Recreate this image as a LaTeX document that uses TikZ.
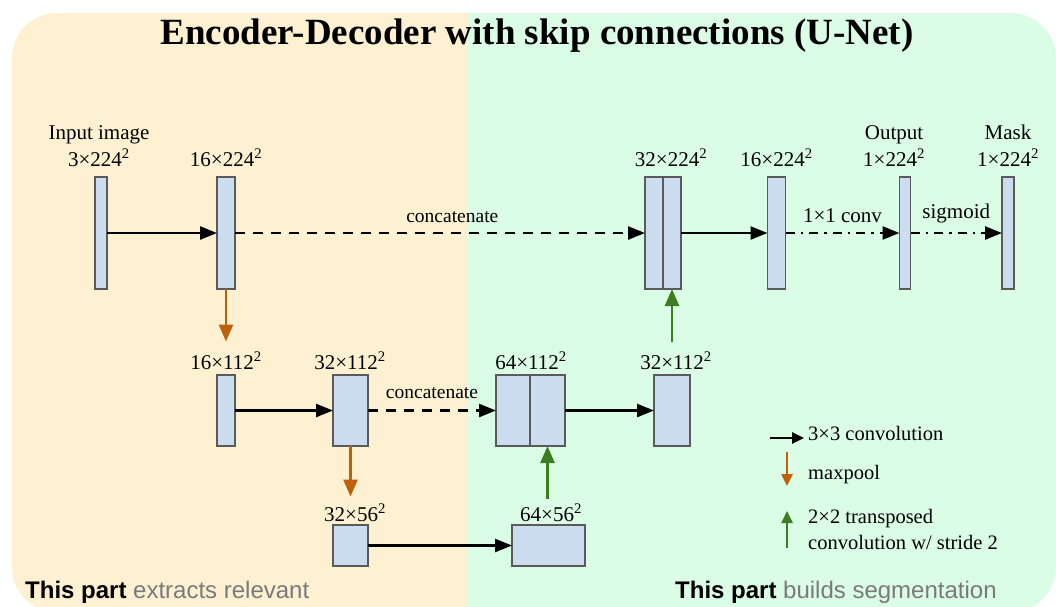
\documentclass[tikz,border=0pt]{standalone}
\usepackage{fontspec}
\setmainfont{Liberation Serif}
\newfontfamily\uisans{Liberation Sans}
\usetikzlibrary{arrows.meta}

\definecolor{encbg}{HTML}{FDF1D2}
\definecolor{decbg}{HTML}{DBFDE5}
\definecolor{fmap}{HTML}{CCDDF0}
\definecolor{fmapedge}{HTML}{5A5A5A}
\definecolor{poolc}{HTML}{C0600B}
\definecolor{upc}{HTML}{3D7D22}
\definecolor{captgray}{HTML}{7A7A7A}

\tikzset{
  fm/.style={draw=fmapedge, fill=fmap, line width=1.4pt, inner sep=0pt, outer sep=0pt},
  lbl/.style={font=\fontsize{21}{25}\selectfont, anchor=base, inner sep=0pt},
  smalllbl/.style={font=\fontsize{19.5}{23}\selectfont, anchor=base, inner sep=0pt},
  legendtxt/.style={font=\fontsize{20.5}{24}\selectfont, anchor=base west, inner sep=0pt},
  conv/.style={line width=2.5pt, -{Triangle[length=17pt,width=13pt]}},
  skip/.style={conv, dash pattern=on 10pt off 8pt},
  headop/.style={conv, dash pattern=on 9pt off 6pt on 2.5pt off 6pt},
  pool/.style={line width=2.5pt, draw=poolc, color=poolc, -{Triangle[length=17pt,width=14pt]}},
  upconv/.style={line width=2.5pt, draw=upc, color=upc, -{Triangle[length=17pt,width=14pt]}},
  keyarrow/.style={line width=2.5pt, -{Triangle[length=12pt,width=11pt]}},
}

\begin{document}
\begin{tikzpicture}[x=1pt,y=-1pt]
\useasboundingbox (0,0) rectangle (1056,606);

% two-tone rounded panel
\begin{scope}
  \clip[rounded corners=45pt] (12,13) rectangle (1056,612);
  \fill[encbg] (12,13) rectangle (468,612);
  \fill[decbg] (468,13) rectangle (1056,612);
\end{scope}

% title
\node[font=\bfseries\fontsize{37}{42}\selectfont, anchor=base, inner sep=0pt] (title) at (537,44)
  {Encoder-Decoder with skip connections (U-Net)};

% ---- feature maps ----
% full resolution
\node[fm, minimum width=12pt, minimum height=112pt] (in)   at (101,233) {};
\node[fm, minimum width=18pt, minimum height=112pt] (e1)   at (226,233) {};
\node[fm, minimum width=18pt, minimum height=112pt] (d1a)  at (654,233) {};
\node[fm, minimum width=18pt, minimum height=112pt] (d1b)  at (672,233) {};
\node[fm, minimum width=18pt, minimum height=112pt] (d1c)  at (776.5,233) {};
\node[fm, minimum width=11pt, minimum height=112pt] (out)  at (905,233) {};
\node[fm, minimum width=12pt, minimum height=112pt] (mask) at (1008,233) {};
% half resolution
\node[fm, minimum width=18pt, minimum height=71pt] (e2)  at (226,410.5) {};
\node[fm, minimum width=35pt, minimum height=71pt] (e3)  at (350.5,410.5) {};
\node[fm, minimum width=34pt, minimum height=71pt] (d2a) at (513,410.5) {};
\node[fm, minimum width=35pt, minimum height=71pt] (d2b) at (547.5,410.5) {};
\node[fm, minimum width=36pt, minimum height=71pt] (d2c) at (672,410.5) {};
% quarter resolution
\node[fm, minimum width=35pt, minimum height=41pt] (b1) at (350.5,545.5) {};
\node[fm, minimum width=73pt, minimum height=41pt] (b2) at (548.5,545.5) {};

% ---- size labels ----
\node[lbl] (lin)   at (99,139)  {Input image};
\node[lbl] (lins)  at (99,166)  {3×224\textsuperscript{2}};
\node[lbl] (le1)   at (226,166) {16×224\textsuperscript{2}};
\node[lbl] (ld1)   at (671,166) {32×224\textsuperscript{2}};
\node[lbl] (ld1c)  at (776.5,166) {16×224\textsuperscript{2}};
\node[lbl] (lout)  at (894,139) {Output};
\node[lbl] (louts) at (894,166) {1×224\textsuperscript{2}};
\node[lbl] (lmask) at (1008,139) {Mask};
\node[lbl] (lmasks) at (1008,166) {1×224\textsuperscript{2}};
\node[lbl] (le2)   at (226,369) {16×112\textsuperscript{2}};
\node[lbl] (le3)   at (350,369) {32×112\textsuperscript{2}};
\node[lbl] (ld2)   at (531,369) {64×112\textsuperscript{2}};
\node[lbl] (ld2c)  at (676,369) {32×112\textsuperscript{2}};
\node[lbl] (lb1)   at (355,521) {32×56\textsuperscript{2}};
\node[lbl] (lb2)   at (551,521) {64×56\textsuperscript{2}};

% ---- connections ----
\draw[conv] (in.east |- 0,233) -- (e1.west);
\draw[skip] (e1.east) -- node[smalllbl, above=9pt, pos=0.53] (cat1) {concatenate} (d1a.west);
\draw[conv] (d1b.east) -- (d1c.west);
\draw[headop] (d1c.east) -- node[lbl, above=9pt] (op1) {1×1 conv} (out.west);
\draw[headop] (out.east) -- node[lbl, above=9pt] (op2) {sigmoid} (mask.west);

\draw[pool] (e1.south) -- ([yshift=10pt]e1.south |- le2.north);
\draw[conv] (e2.east) -- (e3.west);
\draw[skip] (e3.east) -- node[smalllbl, above=11pt] (cat2) {concatenate} (d2a.west);
\draw[pool] (e3.south) -- ([yshift=7pt]e3.south |- lb1.north);
\draw[conv] (b1.east) -- (b2.west);

\draw[upconv] ([yshift=5pt]d2b.south |- lb2.north) -- (d2b.south);
\draw[conv] (d2b.east) -- (d2c.west);
\draw[upconv] ([yshift=10pt]d1b.south |- ld2c.north) -- (d1b.south);

% ---- legend ----
\coordinate (kc1) at (770,438);
\coordinate (kc2) at (804,438);
\coordinate (kp1) at (787,452);
\coordinate (kp2) at (787,486);
\coordinate (ku1) at (787,548);
\coordinate (ku2) at (787,511);
\draw[keyarrow] (kc1) -- (kc2);
\draw[keyarrow, draw=poolc, color=poolc] (kp1) -- (kp2);
\draw[keyarrow, draw=upc, color=upc] (ku1) -- (ku2);
\node[legendtxt] (kct) at (808,440) {3×3 convolution};
\node[legendtxt] (kpt) at (808,479) {maxpool};
\node[legendtxt] (kut) at (808,523) {2×2 transposed};
\node[legendtxt] (kut2) at (808,549) {convolution w/ stride 2};

% ---- panel captions ----
\node[font=\uisans\fontsize{24}{28}\selectfont, anchor=base west, inner sep=0pt] (capl) at (25,598)
  {\textbf{This part} \textcolor{captgray}{extracts relevant}};
\node[font=\uisans\fontsize{24}{28}\selectfont, anchor=base west, inner sep=0pt] (capr) at (675,598)
  {\textbf{This part} \textcolor{captgray}{builds segmentation}};
\end{tikzpicture}
\end{document}
